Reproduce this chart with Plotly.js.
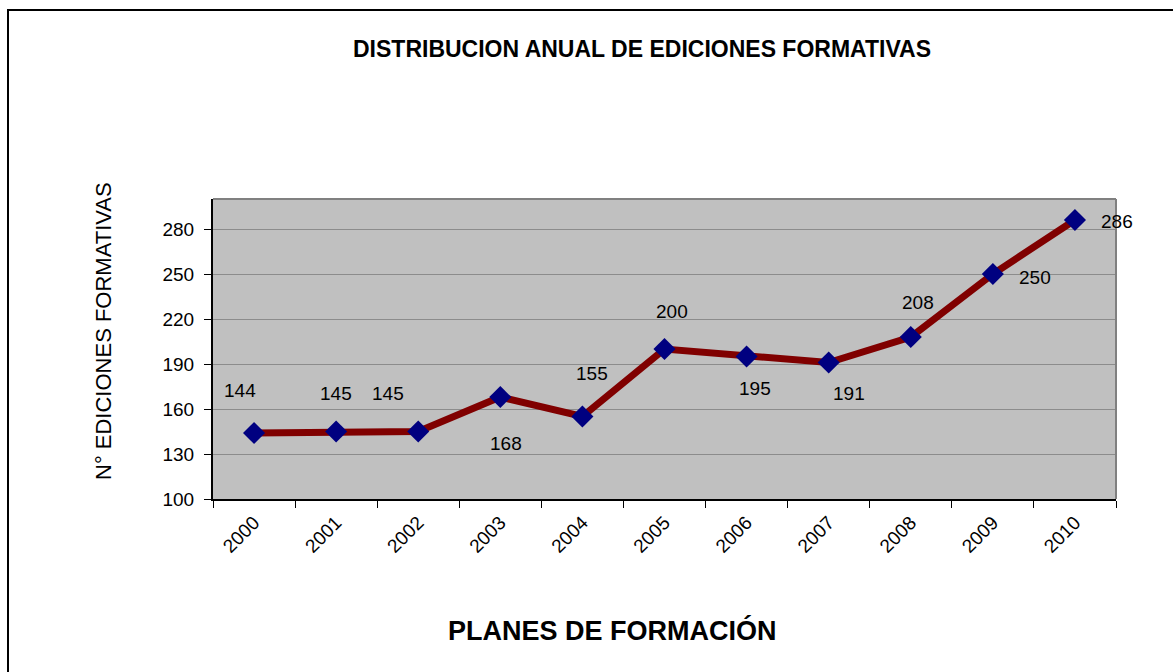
<!DOCTYPE html>
<html>
<head>
<meta charset="utf-8">
<script src="https://cdn.plot.ly/plotly-3.0.1.min.js"></script>
<style>
html,body{margin:0;padding:0;background:#fff;}
#wrap{position:relative;width:1173px;height:672px;overflow:hidden;}
#chart{position:absolute;left:0;top:0;width:1173px;height:672px;}
#frame{position:absolute;left:7px;top:9px;width:1200px;height:700px;border-left:2px solid #000;border-top:2px solid #000;pointer-events:none;}
</style>
</head>
<body>
<div id="wrap"><div id="chart"></div><div id="frame"></div></div>
<script>
// Data
const years = ['2000','2001','2002','2003','2004','2005','2006','2007','2008','2009','2010'];
const ediciones = [144, 145, 145, 168, 155, 200, 195, 191, 208, 250, 286];
const yTicks = [100, 130, 160, 190, 220, 250, 280];

// Label placement (pixel shifts from each marker)
const labelDx = [-14, 0, -30, 6, 10, 7, 8, 20, 7, 42, 42];
const labelDy = [-43, -38, -38, 46, -43, -38, 32, 31, -35, 3, 1];

const font = 'Arial, "Liberation Sans", sans-serif';

const trace = {
  x: years,
  y: ediciones,
  type: 'scatter',
  mode: 'lines+markers',
  line: {color: '#800000', width: 7},
  marker: {symbol: 'diamond', size: 17, color: '#000080'},
  hoverinfo: 'x+y'
};

const annotations = years.map((yr, i) => ({
  x: i, y: ediciones[i], xref: 'x', yref: 'y',
  text: String(ediciones[i]), showarrow: false,
  xanchor: 'center', yanchor: 'middle',
  xshift: labelDx[i], yshift: -labelDy[i],
  font: {family: font, size: 19, color: '#000'}
}));

annotations.push({
  xref: 'paper', yref: 'paper', x: (103-213)/903, y: (499-331)/300,
  xanchor: 'center', yanchor: 'middle',
  text: 'N° EDICIONES FORMATIVAS', textangle: -90, showarrow: false,
  font: {family: font, size: 22, color: '#000'}
});
annotations.push({
  xref: 'paper', yref: 'paper', x: (612-213)/903, y: -(630-499)/300,
  xanchor: 'center', yanchor: 'middle',
  text: '<b>PLANES DE FORMACIÓN</b>', showarrow: false,
  font: {family: font, size: 27, color: '#000'}
});

const layout = {
  width: 1173, height: 672,
  margin: {l: 213, r: 57, t: 199, b: 173},
  paper_bgcolor: 'rgba(0,0,0,0)',
  plot_bgcolor: '#c0c0c0',
  showlegend: false,
  title: {
    text: '<b>DISTRIBUCION ANUAL DE EDICIONES FORMATIVAS</b>',
    font: {family: font, size: 23, color: '#000'},
    x: 642/1173, xref: 'container', xanchor: 'center',
    y: 1 - 49/672, yref: 'container', yanchor: 'middle'
  },
  xaxis: {
    type: 'category',
    tickson: 'boundaries',
    ticks: 'outside', ticklen: 7, tickcolor: '#000', tickwidth: 1,
    tickangle: -45, ticklabelstandoff: 3,
    tickfont: {family: font, size: 19, color: '#000'},
    showline: true, linecolor: '#000', linewidth: 2,
    showgrid: false, zeroline: false,
    range: [-0.5, 10.5], fixedrange: true
  },
  yaxis: {
    range: [100, 300],
    tickvals: yTicks,
    ticks: 'outside', ticklen: 7, tickcolor: '#000', tickwidth: 1,
    ticklabelstandoff: 6,
    tickfont: {family: font, size: 19, color: '#000'},
    showline: true, linecolor: '#000', linewidth: 2,
    showgrid: true, gridcolor: '#8c8c8c', gridwidth: 1,
    zeroline: false, fixedrange: true
  },
  shapes: [
    {type: 'line', xref: 'paper', yref: 'paper', x0: 0, x1: 1, y0: 1, y1: 1, line: {color: '#808080', width: 2}},
    {type: 'line', xref: 'paper', yref: 'paper', x0: 1, x1: 1, y0: 0, y1: 1, line: {color: '#808080', width: 2}}
  ],
  annotations: annotations
};

Plotly.newPlot('chart', [trace], layout, {displayModeBar: false, staticPlot: true});
</script>
</body>
</html>
